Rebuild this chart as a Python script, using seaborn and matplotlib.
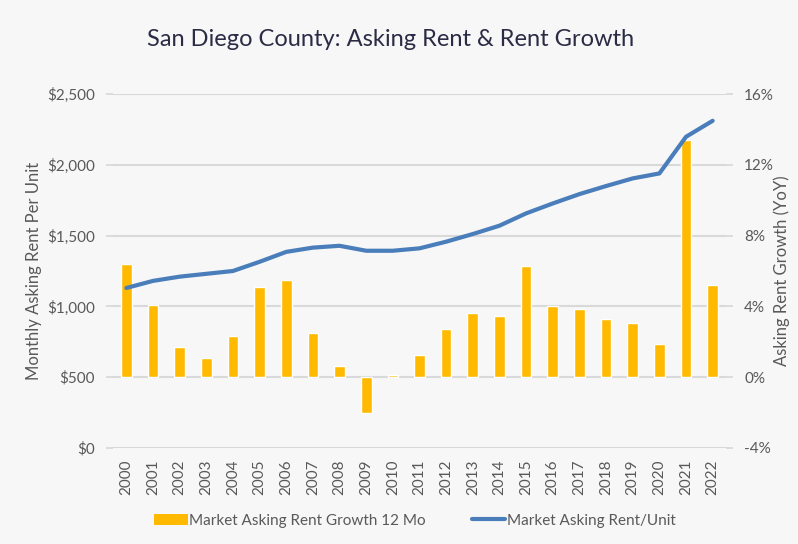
import numpy as np
import pandas as pd
import matplotlib
matplotlib.use("Agg")
import matplotlib.pyplot as plt
import seaborn as sns
from matplotlib.ticker import FuncFormatter, MultipleLocator
from matplotlib.patches import Patch
from matplotlib.lines import Line2D

years = [str(y) for y in range(2000, 2023)]
growth_pct = [6.4, 4.1, 1.7, 1.1, 2.3, 5.1, 5.5, 2.5, 0.65, -2.0, 0.1, 1.25,
              2.7, 3.6, 3.45, 6.3, 4.0, 3.85, 3.3, 3.05, 1.9, 13.4, 5.2]
rent = [1130, 1180, 1210, 1230, 1250, 1315, 1385, 1415, 1428, 1393, 1393, 1410,
        1457, 1511, 1570, 1657, 1727, 1793, 1850, 1904, 1939, 2198, 2311]

BG = "#F7F7F7"
BAR = "#FFBA00"
LINE = "#4A7EBB"
GRID = "#D9D9D9"
TXT = "#595959"

sns.set_theme(style="white")
plt.rcParams["font.family"] = ["Lato", "DejaVu Sans"]

df = pd.DataFrame({"year": years, "growth": growth_pct, "rent": rent})

fig = plt.figure(figsize=(7.98, 5.44), dpi=100, facecolor=BG)
ax = fig.add_axes([0.1416, 0.1765, 0.9098 - 0.1416, 0.8272 - 0.1765])
ax.set_facecolor(BG)

# bars on growth axis (right side)
sns.barplot(data=df, x="year", y="growth", color=BAR, saturation=1, width=0.4, ax=ax, zorder=2)
ax.set_ylim(-4, 16)
ax.yaxis.set_major_locator(MultipleLocator(4))
ax.yaxis.set_major_formatter(FuncFormatter(lambda v, p: f"{v:.0f}%"))
ax.grid(axis="y", color=GRID, lw=1.5, zorder=0)
ax.set_axisbelow(True)
ax.set_xlim(-0.5, len(years) - 0.5)
ax.set_xlabel("")
ax.tick_params(axis="x", rotation=90, labelsize=11, colors=TXT, length=0, pad=8)
for s in ax.spines.values():
    s.set_visible(False)

# line on rent axis (left side)
ax2 = ax.twinx()
ax2.patch.set_visible(False)
sns.lineplot(x=np.arange(len(years)), y=df["rent"], color=LINE, lw=3, ax=ax2,
             solid_capstyle="round")
ax2.set_ylim(0, 2500)
ax2.yaxis.set_major_locator(MultipleLocator(500))
ax2.yaxis.set_major_formatter(FuncFormatter(lambda v, p: f"${v:,.0f}"))
ax2.set_xlim(-0.5, len(years) - 0.5)
for s in ax2.spines.values():
    s.set_visible(False)

# swap sides: growth on right, rent on left
ax.yaxis.tick_right()
ax.yaxis.set_label_position("right")
ax.set_ylabel("Asking Rent Growth (YoY)", fontsize=12, color=TXT)
ax.yaxis.set_label_coords(1.078, 0.5)
ax.tick_params(axis="y", labelsize=11, colors=TXT, length=5, color=GRID, pad=8,
               left=False, labelleft=False, right=True, labelright=True)
ax2.yaxis.tick_left()
ax2.yaxis.set_label_position("left")
ax2.set_ylabel("Monthly Asking Rent Per Unit", fontsize=12, color=TXT)
ax2.yaxis.set_label_coords(-0.115, 0.5)
ax2.tick_params(axis="y", labelsize=11, colors=TXT, length=5, color=GRID, pad=8,
                right=False, labelright=False, left=True, labelleft=True)

fig.text(0.49, 0.928, "San Diego County: Asking Rent & Rent Growth", ha="center", va="center",
         fontsize=17, color="#2B2B45")

handles = [Patch(facecolor=BAR, edgecolor="none"),
           Line2D([0], [0], color=LINE, lw=3)]
fig.legend(handles, ["Market Asking Rent Growth 12 Mo", "Market Asking Rent/Unit"],
           loc="center", bbox_to_anchor=(0.52, 0.043), ncol=2, frameon=False,
           fontsize=11, labelcolor=TXT, handlelength=2.2, handletextpad=0.1,
           columnspacing=3.0)

fig.savefig("out.png", dpi=100, facecolor=BG)
